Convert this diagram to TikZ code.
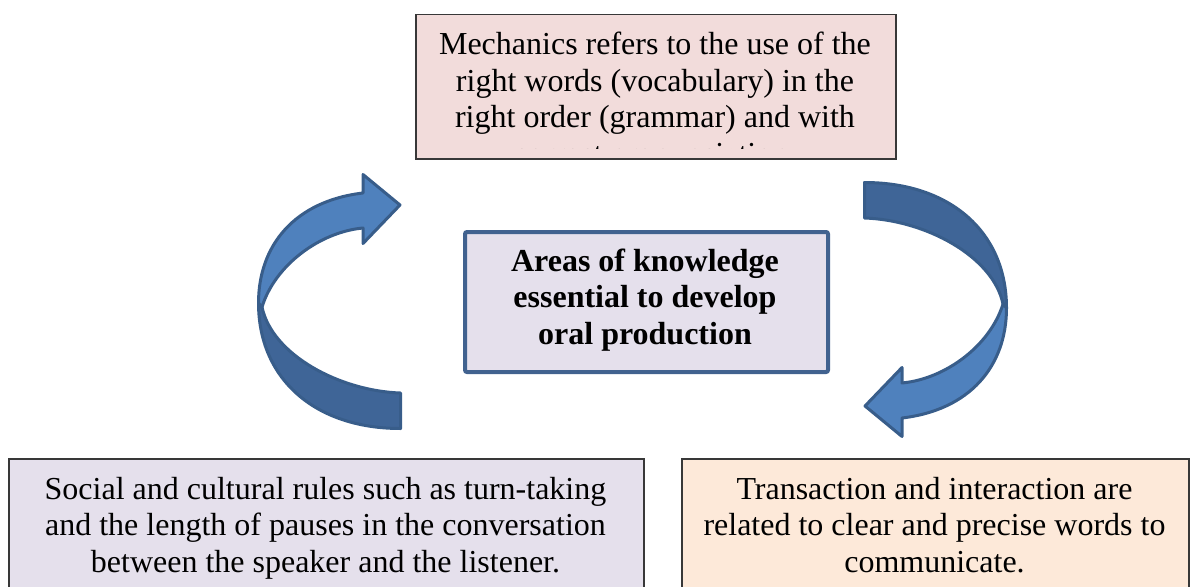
\documentclass[tikz,border=0pt]{standalone}
\usepackage{fontspec}
\setmainfont{Liberation Serif}
\definecolor{pinkfill}{HTML}{F2DCDB}
\definecolor{lavfill}{HTML}{E5E0EC}
\definecolor{peachfill}{HTML}{FDE9D9}
\definecolor{coreedge}{HTML}{41628F}
\definecolor{arrowedge}{HTML}{385D8A}
\definecolor{arrowlight}{HTML}{4F81BD}
\definecolor{arrowdark}{HTML}{3F6597}
\newcommand\diagfont{\fontsize{32}{36.5}\selectfont}
\begin{document}
\begin{tikzpicture}[x=1pt,y=-1pt,
  textbox/.style={draw=black!78, line width=1.5pt, inner sep=0pt, anchor=north west},
  corebox/.style={draw=coreedge, line width=4pt, rounded corners=2pt, fill=lavfill, inner sep=0pt, anchor=north west},
  txt/.style={inner sep=0pt, anchor=base},
  arrowpart/.style={draw=arrowedge, line width=3pt, line join=round}
]
\useasboundingbox (0,0) rectangle (1190,586);
\clip (0,0) rectangle (1190,586);

% top box
\node[textbox, fill=pinkfill, minimum width=480pt, minimum height=144pt] (mech) at (415,14) {};
\begin{scope}
  \clip (416,15) rectangle (894,148);
  \node[txt] (mechtext) at (655,55) {\parbox[t]{470pt}{\centering\diagfont
    Mechanics refers to the use of the\\
    right words (vocabulary) in the\\
    right order (grammar) and with\\
    correct pronunciation.}};
\end{scope}

% center box
\node[corebox, minimum width=363pt, minimum height=140pt] (core) at (463,230) {};
\node[txt] (coretext) at (645,271) {\parbox[t]{350pt}{\centering\diagfont\bfseries
    Areas of knowledge\\
    essential to develop\\
    oral production}};

% bottom boxes
\node[textbox, fill=lavfill, minimum width=635pt, minimum height=160pt] (social) at (8,458) {};
\node[txt] (socialtext) at (325.5,499) {\parbox[t]{620pt}{\centering\diagfont
    Social and cultural rules such as turn-taking\\
    and the length of pauses in the conversation\\
    between the speaker and the listener.}};

\node[textbox, fill=peachfill, minimum width=507pt, minimum height=160pt] (trans) at (681,458) {};
\node[txt] (transtext) at (934.5,499) {\parbox[t]{495pt}{\centering\diagfont
    Transaction and interaction are\\
    related to clear and precise words to\\
    communicate.}};

% left curved arrow
\begin{scope}
  \path[arrowpart, fill=arrowdark] (258.5,303) .. controls (258.5,379) and (315,428.5) .. (400.5,428.5)
     -- (400.5,393) .. controls (340,391) and (272,355) .. (262,307) -- cycle;
  \path[arrowpart, fill=arrowlight] (258.5,303) .. controls (258.5,245) and (295,201) .. (363,193)
     -- (363,174.5) -- (400,205) -- (363,243.5) -- (363,228)
     .. controls (320,232) and (275,265) .. (262,307) -- cycle;
\end{scope}

% right curved arrow
\begin{scope}[rotate around={180:(632.5,305.5)}]
  \path[arrowpart, fill=arrowdark] (258.5,303) .. controls (258.5,379) and (315,428.5) .. (400.5,428.5)
     -- (400.5,393) .. controls (340,391) and (272,355) .. (262,307) -- cycle;
  \path[arrowpart, fill=arrowlight] (258.5,303) .. controls (258.5,245) and (295,201) .. (363,193)
     -- (363,174.5) -- (400,205) -- (363,243.5) -- (363,228)
     .. controls (320,232) and (275,265) .. (262,307) -- cycle;
\end{scope}
\end{tikzpicture}
\end{document}
